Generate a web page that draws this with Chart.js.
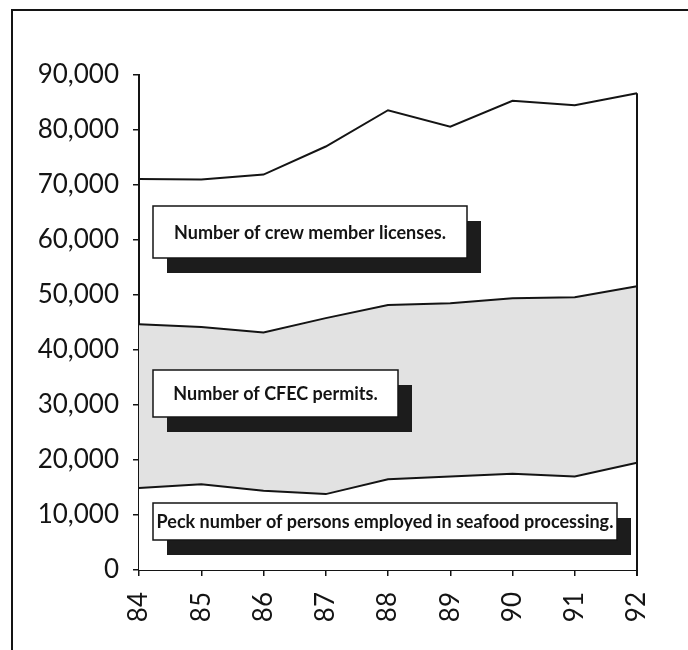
<!DOCTYPE html>
<html>
<head>
<meta charset="utf-8">
<script src="https://cdn.jsdelivr.net/npm/chart.js@4/dist/chart.umd.min.js"></script>
<style>
  html, body { margin: 0; padding: 0; background: #fff; overflow: hidden; }
  #wrap { width: 688px; height: 650px; }
  #c { display: block; }
</style>
</head>
<body>
<div id="wrap"><canvas id="c" width="688" height="650"></canvas></div>
<script>
// Fishing-industry employment in Alaska, 1984-1992 (stacked areas)
const years = ['84', '85', '86', '87', '88', '89', '90', '91', '92'];
// Peak number of persons employed in seafood processing
const processingWorkers = [14900, 15600, 14400, 13800, 16500, 17000, 17500, 17000, 19500];
// Number of CFEC permits
const cfecPermits = [29800, 28600, 28800, 32000, 31700, 31500, 31900, 32600, 32100];
// Number of crew member licenses
const crewLicenses = [26400, 26800, 28700, 31200, 35400, 32100, 35900, 34900, 35100];
// Value axis
const yMax = 90000;
const yStep = 10000;
// Series captions
const seriesNames = [
  'Peck number of persons employed in seafood processing.',
  'Number of CFEC permits.',
  'Number of crew member licenses.'
];

const tickFont = { family: 'Lato, "Liberation Sans", sans-serif', size: 26 };
const ink = '#141414';

// Caption boxes with a dark drop shadow, placed relative to the plot area
const captionBoxes = [
  { text: seriesNames[2], left: 14, top: 131, width: 314, height: 52 },
  { text: seriesNames[1], left: 14, top: 295, width: 245, height: 47 },
  { text: seriesNames[0], left: 14, top: 428, width: 464, height: 37 }
];

// Open frame along the left and top edges of the figure
const framePlugin = {
  id: 'frame',
  beforeDraw(chart) {
    const ctx = chart.ctx;
    ctx.save();
    ctx.fillStyle = '#fff';
    ctx.fillRect(0, 0, chart.width, chart.height);
    ctx.fillStyle = ink;
    ctx.fillRect(11, 9, 2, chart.height - 9);
    ctx.fillRect(11, 9, chart.width - 11, 2);
    ctx.restore();
  }
};

const edgePlugin = {
  id: 'edge',
  afterDatasetsDraw(chart) {
    const ctx = chart.ctx;
    const xs = chart.scales.x, ys = chart.scales.y;
    const last = years.length - 1;
    const total = processingWorkers[last] + cfecPermits[last] + crewLicenses[last];
    const x = xs.getPixelForValue(last);
    ctx.save();
    ctx.strokeStyle = ink;
    ctx.lineWidth = 2;
    ctx.beginPath();
    ctx.moveTo(x, ys.getPixelForValue(total));
    ctx.lineTo(x, ys.bottom + 6);
    ctx.stroke();
    ctx.restore();
  }
};

const captionPlugin = {
  id: 'captions',
  afterDatasetsDraw(chart) {
    const ctx = chart.ctx;
    const a = chart.chartArea;
    ctx.save();
    captionBoxes.forEach(b => {
      const x = a.left + b.left, y = a.top + b.top;
      ctx.fillStyle = '#1c1c1c';
      ctx.fillRect(x + 14, y + 15, b.width, b.height);
      ctx.fillStyle = '#fff';
      ctx.fillRect(x, y, b.width, b.height);
      ctx.strokeStyle = ink;
      ctx.lineWidth = 1.5;
      ctx.strokeRect(x, y, b.width, b.height);
      ctx.fillStyle = ink;
      ctx.font = 'bold 18px Lato, "Liberation Sans", sans-serif';
      ctx.textAlign = 'center';
      ctx.textBaseline = 'middle';
      ctx.fillText(b.text, x + b.width / 2, y + b.height / 2 + 1);
    });
    ctx.restore();
  }
};

const lineStyle = { borderColor: ink, borderWidth: 2, pointRadius: 0, tension: 0 };

new Chart(document.getElementById('c'), {
  type: 'line',
  data: {
    labels: years,
    datasets: [
      Object.assign({ label: seriesNames[0], data: processingWorkers, fill: 'origin', backgroundColor: '#ffffff' }, lineStyle),
      Object.assign({ label: seriesNames[1], data: cfecPermits, fill: '-1', backgroundColor: '#e2e2e2' }, lineStyle),
      Object.assign({ label: seriesNames[2], data: crewLicenses, fill: false, backgroundColor: '#ffffff' }, lineStyle)
    ]
  },
  options: {
    responsive: false,
    animation: false,
    devicePixelRatio: 1,
    layout: { padding: { left: 0, right: 51, top: 75, bottom: 0 } },
    plugins: { legend: { display: false }, tooltip: { enabled: false } },
    scales: {
      x: {
        offset: false,
        grid: { drawOnChartArea: false, drawTicks: true, tickLength: 6, color: ink, lineWidth: 1.5 },
        border: { color: ink, width: 2 },
        ticks: { minRotation: 90, maxRotation: 90, autoSkip: false, font: tickFont, color: ink, padding: 16 },
        afterFit(scale) { scale.height = 80; }
      },
      y: {
        stacked: true,
        min: 0,
        max: yMax,
        grid: { drawOnChartArea: false, drawTicks: true, tickLength: 6, color: ink, lineWidth: 1.5 },
        border: { color: ink, width: 2 },
        ticks: {
          stepSize: yStep,
          font: tickFont,
          color: ink,
          padding: 14,
          callback: v => v.toLocaleString('en-US')
        },
        afterFit(scale) { scale.width = 139; }
      }
    }
  },
  plugins: [framePlugin, edgePlugin, captionPlugin]
});
</script>
</body>
</html>
